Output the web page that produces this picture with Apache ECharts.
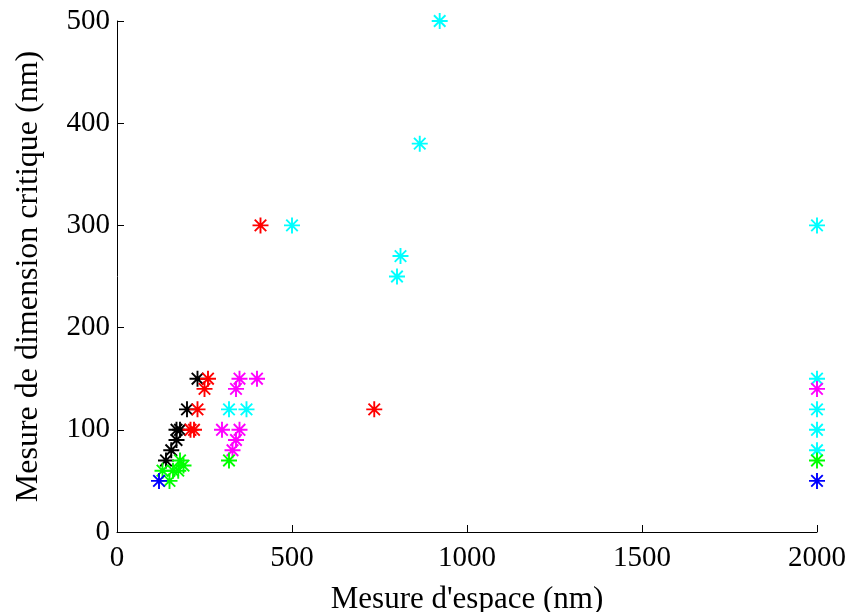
<!DOCTYPE html>
<html>
<head>
<meta charset="utf-8">
<script src="https://cdn.jsdelivr.net/npm/echarts@6/dist/echarts.min.js"></script>
<style>
html,body{margin:0;padding:0;background:#fff;}
#chart{width:851px;height:612px;}
</style>
</head>
<body>
<div id="chart"></div>
<script>
// Data: [space (nm), critical dimension (nm)]
var blackPts   = [[140,70],[155,80],[170,90],[170,100],[180,100],[200,120],[230,150]];
var redPts     = [[210,100],[220,100],[230,120],[250,140],[260,150],[410,300],[735,120]];
var cyanPts    = [[320,120],[370,120],[500,300],[800,250],[810,270],[865,380],[922,500],[2000,300],[2000,150],[2000,120],[2000,100],[2000,80]];
var magentaPts = [[300,100],[350,100],[340,90],[330,80],[340,140],[350,150],[400,150],[2000,140]];
var greenPts   = [[130,60],[150,50],[160,60],[175,60],[180,70],[190,65],[320,70],[2000,70]];
var bluePts    = [[120,50],[2000,50]];

var xTicks = [0,500,1000,1500,2000];
var yTicks = [0,100,200,300,400,500];
var xTitle = "Mesure d'espace (nm)";
var yTitle = "Mesure de dimension critique (nm)";

var starPath = 'path://M0,-1L0,1M-1,0L1,0M-0.72,-0.72L0.72,0.72M-0.72,0.72L0.72,-0.72';
function mk(name, data, col){
  return {
    name: name, type: 'scatter', data: data,
    symbol: starPath, symbolSize: 16,
    itemStyle: {color: 'rgba(0,0,0,0)', borderColor: col, borderWidth: 1.9, opacity: 1},
    emphasis: {disabled: true},
    animation: false
  };
}
var font = 'Liberation Serif, Times New Roman, serif';
var chart = echarts.init(document.getElementById('chart'), null, {renderer: 'canvas'});
chart.setOption({
  backgroundColor: '#fff',
  animation: false,
  grid: {left: 117, right: 34, top: 21, bottom: 80, containLabel: false, outerBoundsMode: 'none'},
  xAxis: {
    type: 'value', min: xTicks[0], max: xTicks[xTicks.length-1], interval: 500,
    name: xTitle, nameLocation: 'middle', nameGap: 52,
    nameTextStyle: {fontFamily: font, fontSize: 31, color: '#000'},
    axisLine: {show: true, onZero: false, lineStyle: {color: '#000', width: 1}},
    axisTick: {show: true, inside: true, length: 7, lineStyle: {color: '#000'}},
    axisLabel: {fontFamily: font, fontSize: 29, color: '#000', margin: 12,
                formatter: function(v){ return String(v); }},
    splitLine: {show: false}
  },
  yAxis: {
    type: 'value', min: yTicks[0], max: yTicks[yTicks.length-1], interval: 100,
    name: yTitle, nameLocation: 'middle', nameGap: 72,
    nameTextStyle: {fontFamily: font, fontSize: 32, color: '#000'},
    axisLine: {show: true, onZero: false, lineStyle: {color: '#000', width: 1}},
    axisTick: {show: true, inside: true, length: 7, lineStyle: {color: '#000'}},
    axisLabel: {fontFamily: font, fontSize: 29, color: '#000', margin: 7,
                formatter: function(v){ return String(v); }},
    splitLine: {show: false}
  },
  series: [
    mk('black', blackPts, '#000000'),
    mk('red', redPts, '#ff0000'),
    mk('cyan', cyanPts, '#00ffff'),
    mk('magenta', magentaPts, '#ff00ff'),
    mk('green', greenPts, '#00ff00'),
    mk('blue', bluePts, '#0000ff')
  ]
});
</script>
</body>
</html>
